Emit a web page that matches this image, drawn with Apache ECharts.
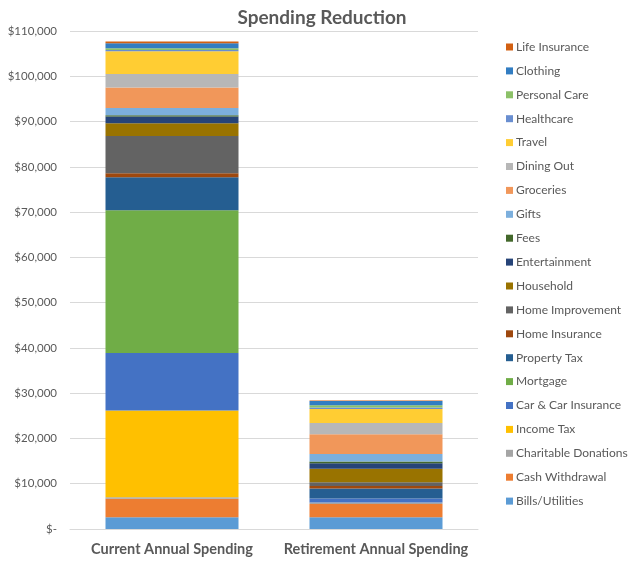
<!DOCTYPE html>
<html>
<head>
<meta charset="utf-8">
<script src="https://cdn.jsdelivr.net/npm/echarts@6/dist/echarts.min.js"></script>
<style>html,body{margin:0;padding:0;background:#fff}#c{width:640px;height:567px}</style>
</head>
<body>
<div id="c"></div>
<script>
var categories = ['Current Annual Spending', 'Retirement Annual Spending'];
var seriesNames = ['Bills/Utilities','Cash Withdrawal','Charitable Donations','Income Tax','Car & Car Insurance','Mortgage','Property Tax','Home Insurance','Home Improvement','Household','Entertainment','Fees','Gifts','Groceries','Dining Out','Travel','Healthcare','Personal Care','Clothing','Life Insurance'];
var currentValues =    [2600, 4100, 300, 19200, 12700, 31500, 7300, 900, 8200, 2800, 1500, 300, 1600, 4500, 3000, 5000, 300, 400, 1100, 400];
var retirementValues = [2600, 2900, 350, 0, 900, 0, 2200, 550, 800, 3000, 1250, 350, 1650, 4400, 2450, 3100, 350, 500, 900, 150];
var seriesColors = ['#5B9BD5','#ED7D31','#A5A5A5','#FFC000','#4472C4','#70AD47','#255E91','#9E480E','#636363','#997300','#264478','#43682B','#7CAFDD','#F1975A','#B7B7B7','#FFCD33','#698ED0','#8CC168','#327DC2','#D26012'];
var yTicks = {min: 0, max: 110000, interval: 10000};

var font = 'Lato, "Open Sans", sans-serif';
function fmt(v){
  if (v === 0) return '$-';
  return '$' + v.toString().replace(/\B(?=(\d{3})+(?!\d))/g, ',');
}
var series = seriesNames.map(function(n, i){
  return {
    name: n, type: 'bar', stack: 'total', barWidth: 133,
    itemStyle: {color: seriesColors[i]},
    data: [currentValues[i], retirementValues[i]]
  };
});
var chart = echarts.init(document.getElementById('c'));
chart.setOption({
  animation: false,
  color: seriesColors,
  title: {
    text: 'Spending Reduction', left: 317, textAlign: 'center', top: 3,
    textStyle: {fontFamily: font, fontSize: 19, fontWeight: 'bold', color: '#595959'}
  },
  legend: {
    data: seriesNames.slice().reverse(),
    orient: 'vertical', left: 501, top: 35,
    icon: 'rect', itemWidth: 7, itemHeight: 7, itemGap: 9.9,
    textStyle: {fontFamily: font, fontSize: 12, color: '#595959', lineHeight: 14, padding: [0,0,0,-2]}
  },
  grid: {left: 70, right: 162, top: 31, bottom: 38},
  xAxis: {
    type: 'category', data: categories,
    axisLine: {lineStyle: {color: '#D9D9D9'}},
    axisTick: {show: false},
    axisLabel: {interval: 0, fontFamily: font, fontSize: 14.5, fontWeight: 'bold', color: '#595959', margin: 13}
  },
  yAxis: {
    type: 'value', min: yTicks.min, max: yTicks.max, interval: yTicks.interval,
    axisLine: {show: false}, axisTick: {show: false},
    splitLine: {lineStyle: {color: '#D9D9D9'}},
    axisLabel: {fontFamily: font, fontSize: 11.5, color: '#595959', margin: 13, formatter: fmt}
  },
  series: series
});
</script>
</body>
</html>
